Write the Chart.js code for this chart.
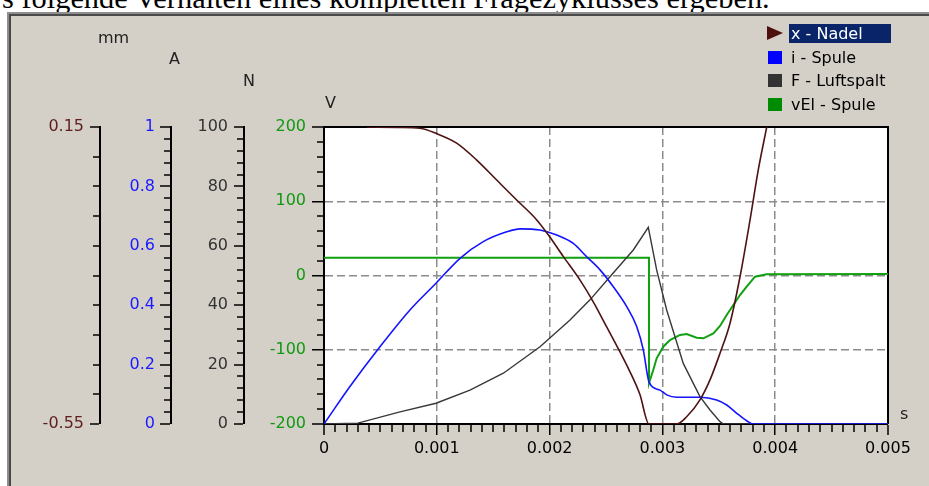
<!DOCTYPE html>
<html>
<head>
<meta charset="utf-8">
<script src="https://cdn.jsdelivr.net/npm/chart.js@4.4.0/dist/chart.umd.min.js"></script>
<style>
html,body{margin:0;padding:0;background:#fff;width:929px;height:486px;overflow:hidden;position:relative;font-family:'DejaVu Sans',sans-serif;}
#caption{position:absolute;left:2px;top:-17px;font-family:'Liberation Serif','Times New Roman',serif;font-size:30.4px;line-height:30px;white-space:nowrap;color:#000;z-index:0;}
#panel{position:absolute;left:7px;top:12px;width:960px;height:500px;background:#d4d0c8;border-top:2px solid #8f8f8f;border-left:2px solid #8f8f8f;box-shadow:inset 2px 2px 0 #4a4a4a;z-index:1;}
#c{position:absolute;left:0;top:0;z-index:2;}
.t{position:absolute;z-index:3;font-size:16px;line-height:20px;white-space:nowrap;color:#222;}
.row{position:absolute;z-index:3;height:19px;line-height:19px;font-size:16px;white-space:nowrap;color:#000;}
.row .txt{position:absolute;left:22px;top:0;padding:0 2px;height:19px;}
.row .sel{background:#0a246a;color:#fff;width:98px;}
.row .sq{position:absolute;left:1px;top:3px;width:14px;height:13px;}
.row .tri{position:absolute;left:0;top:2px;width:0;height:0;border-top:7px solid transparent;border-bottom:7px solid transparent;border-left:16px solid #4e0f0f;}
</style>
</head>
<body>
<div id="caption">s folgende Verhalten eines kompletten Fragezyklusses ergeben.</div>
<div id="panel"></div>
<canvas id="c" width="929" height="486"></canvas>
<div class="t" style="left:98px;top:28px;">mm</div>
<div class="t" style="left:169px;top:49px;">A</div>
<div class="t" style="left:243px;top:71px;">N</div>
<div class="t" style="left:325px;top:93px;">V</div>
<div class="t" style="left:900px;top:404px;">s</div>
<div id="legend"></div>
<script>
// ---- series names / colours ----
const seriesNames = ['x - Nadel', 'i - Spule', 'F - Luftspalt', 'vEl - Spule'];
const seriesColors = ['#4e1212', '#1414ff', '#383838', '#10a010'];
const legendColors = ['#4e0f0f', '#0000ff', '#333333', '#008c00'];

// ---- x - Nadel (mm) ----
const tNadel = [0.000379, 0.000660, 0.000851, 0.000993, 0.001176, 0.001354, 0.001531, 0.001708, 0.001886, 0.001988, 0.002121, 0.002270, 0.002387, 0.002506, 0.002624, 0.002700, 0.002800, 0.002881, 0.003127, 0.003215, 0.003333, 0.003422, 0.003511, 0.003599, 0.003688, 0.003777, 0.003850, 0.003925];
const xNadel = [0.150, 0.149, 0.147, 0.135, 0.112, 0.072, 0.025, -0.022, -0.069, -0.104, -0.155, -0.211, -0.262, -0.321, -0.380, -0.420, -0.480, -0.550, -0.550, -0.533, -0.493, -0.446, -0.383, -0.313, -0.203, -0.069, 0.049, 0.150];

// ---- i - Spule (A) ----
const tSpule = [0, 0.000230, 0.000496, 0.000762, 0.000993, 0.001206, 0.001412, 0.001620, 0.001738, 0.001915, 0.002063, 0.002210, 0.002329, 0.002447, 0.002565, 0.002684, 0.002772, 0.002831, 0.002881, 0.002979, 0.003038, 0.003127, 0.003333, 0.003481, 0.003570, 0.003659, 0.003747, 0.003806, 0.005];
const iSpule = [0, 0.126, 0.260, 0.384, 0.474, 0.558, 0.614, 0.647, 0.657, 0.653, 0.636, 0.608, 0.563, 0.519, 0.462, 0.395, 0.328, 0.249, 0.142, 0.114, 0.098, 0.090, 0.090, 0.081, 0.064, 0.036, 0.011, 0, 0];

// ---- F - Luftspalt (N) ----
const tLuft = [0, 0.000300, 0.000674, 0.000993, 0.001294, 0.001590, 0.001915, 0.002181, 0.002358, 0.002535, 0.002742, 0.002875, 0.002949, 0.003038, 0.003185, 0.003333, 0.003422, 0.003511, 0.003540, 0.005];
const fLuft = [0, 0.3, 4.1, 7.0, 11.4, 17.1, 26.0, 35.0, 41.8, 49.6, 58.6, 66.2, 51.9, 38.4, 20.4, 9.2, 4.7, 0.8, 0, 0];

// ---- vEl - Spule (V) ----
const tEl = [0, 0.002881, 0.002881, 0.002919, 0.002949, 0.003008, 0.003067, 0.003156, 0.003215, 0.003304, 0.003363, 0.003452, 0.003511, 0.003570, 0.003629, 0.003688, 0.003747, 0.003821, 0.003924, 0.005];
const vEl = [24, 24, -145, -127.3, -111.5, -95.9, -86.9, -80.1, -78.8, -83.8, -84.6, -77.9, -68.0, -53.2, -39.7, -26.3, -15.1, -1.6, 1.6, 2.0];

// ---- tick labels ----
const mmLabels = [-0.55, 0.15];
const aLabels = [0, 0.2, 0.4, 0.6, 0.8, 1];
const nLabels = [0, 20, 40, 60, 80, 100];
const vLabels = [-200, -100, 0, 100, 200];
const tLabels = [0, 0.001, 0.002, 0.003, 0.004, 0.005];

function buildTicks(labels, div) {
  const out = [];
  for (let k = 0; k < labels.length - 1; k++) {
    const a = labels[k], b = labels[k + 1];
    for (let j = 0; j < div; j++) out.push(a + (b - a) * j / div);
  }
  out.push(labels[labels.length - 1]);
  return out;
}
function helpers(labels) {
  const span = labels[labels.length - 1] - labels[0];
  const eps = span * 1e-6;
  const major = v => labels.some(l => Math.abs(l - v) < eps);
  const inner = v => major(v) && Math.abs(v - labels[0]) > eps && Math.abs(v - labels[labels.length - 1]) > eps;
  const fmt = v => { const l = labels.find(x => Math.abs(x - v) < eps); return l === undefined ? '' : String(l); };
  return {major, inner, fmt};
}
const FONT = {family: 'DejaVu Sans', size: 16};

function makeY(labels, div, o) {
  const ticks = buildTicks(labels, div);
  const h = helpers(labels);
  return {
    type: 'linear', axis: 'y', position: 'left', weight: o.weight,
    min: labels[0], max: labels[labels.length - 1],
    afterBuildTicks: s => { s.ticks = ticks.map(v => ({value: v})); },
    afterFit: s => { s.width = o.width; },
    border: {display: true, color: '#000', width: 2, dash: [8, 4]},
    grid: {
      drawOnChartArea: !!o.chartGrid,
      drawTicks: true,
      tickLength: o.tl,
      color: '#8c8c8c',
      lineWidth: c => (o.chartGrid && c.tick && h.inner(c.tick.value)) ? 1.5 : 0,
      tickWidth: 1.5,
      tickColor: '#000',
      tickBorderDash: c => (c.tick && h.major(c.tick.value)) ? [] : [0, o.gap, 100]
    },
    ticks: {autoSkip: false, padding: o.pad, color: o.color, font: FONT, callback: v => h.fmt(v)}
  };
}
function makeX(labels, div) {
  const ticks = buildTicks(labels, div);
  const h = helpers(labels);
  return {
    type: 'linear', axis: 'x', position: 'bottom',
    min: labels[0], max: labels[labels.length - 1],
    afterBuildTicks: s => { s.ticks = ticks.map(v => ({value: v})); },
    afterFit: s => { s.height = 40; },
    border: {display: true, color: '#000', width: 2, dash: [8, 4]},
    grid: {
      drawOnChartArea: true,
      drawTicks: true,
      tickLength: 11,
      color: '#8c8c8c',
      lineWidth: c => (c.tick && h.inner(c.tick.value)) ? 1.5 : 0,
      tickWidth: 1.5,
      tickColor: '#000',
      tickBorderDash: c => (c.tick && h.major(c.tick.value)) ? [] : [7, 100]
    },
    ticks: {autoSkip: false, maxRotation: 0, minRotation: 0, padding: 4, color: '#000', font: FONT, callback: v => h.fmt(v)}
  };
}

const pts = (t, v) => t.map((x, i) => ({x: x, y: v[i]}));

const framePlugin = {
  id: 'frame',
  beforeDraw(chart) {
    const {ctx, chartArea: a} = chart;
    ctx.save();
    ctx.fillStyle = '#ffffff';
    ctx.fillRect(a.left, a.top, a.right - a.left, a.bottom - a.top);
    ctx.restore();
  },
  beforeDatasetsDraw(chart) {
    const {ctx, chartArea: a} = chart;
    ctx.save();
    ctx.strokeStyle = '#000';
    ctx.lineWidth = 2;
    ctx.beginPath();
    ctx.moveTo(a.left, a.top);
    ctx.lineTo(a.right, a.top);
    ctx.lineTo(a.right, a.bottom);
    ctx.stroke();
    ctx.restore();
  }
};

new Chart(document.getElementById('c'), {
  type: 'line',
  data: {
    datasets: [
      {label: seriesNames[0], yAxisID: 'mm', data: pts(tNadel, xNadel), borderColor: seriesColors[0], borderWidth: 1.6, cubicInterpolationMode: 'monotone', pointRadius: 0, fill: false},
      {label: seriesNames[1], yAxisID: 'A', data: pts(tSpule, iSpule), borderColor: seriesColors[1], borderWidth: 1.6, cubicInterpolationMode: 'monotone', pointRadius: 0, fill: false},
      {label: seriesNames[2], yAxisID: 'N', data: pts(tLuft, fLuft), borderColor: seriesColors[2], borderWidth: 1.4, tension: 0, pointRadius: 0, fill: false},
      {label: seriesNames[3], yAxisID: 'V', data: pts(tEl, vEl), borderColor: seriesColors[3], borderWidth: 2, tension: 0, pointRadius: 0, fill: false}
    ]
  },
  options: {
    responsive: false,
    devicePixelRatio: 1,
    animation: false,
    events: [],
    layout: {padding: {left: 0, top: 127, right: 41, bottom: 22}},
    plugins: {legend: {display: false}, tooltip: {enabled: false}},
    scales: {
      x: makeX(tLabels, 10),
      mm: makeY(mmLabels, 10, {weight: 4, width: 100, tl: 10, gap: 3, pad: 6, color: '#5e1e1e'}),
      A: makeY(aLabels, 5, {weight: 3, width: 71, tl: 11, gap: 4, pad: 5, color: '#1a1aff'}),
      N: makeY(nLabels, 5, {weight: 2, width: 73, tl: 10, gap: 3, pad: 6, color: '#333333'}),
      V: makeY(vLabels, 5, {weight: 1, width: 80, tl: 12, gap: 5, pad: 6, color: '#119911', chartGrid: true})
    }
  },
  plugins: [framePlugin]
});

// ---- legend (HTML) ----
const lg = document.getElementById('legend');
seriesNames.forEach((name, i) => {
  const row = document.createElement('div');
  row.className = 'row';
  row.style.left = '767px';
  row.style.top = (24 + i * 23.5) + 'px';
  const mk = document.createElement('div');
  if (i === 0) { mk.className = 'tri'; mk.style.borderLeftColor = legendColors[i]; }
  else { mk.className = 'sq'; mk.style.background = legendColors[i]; }
  const tx = document.createElement('div');
  tx.className = 'txt' + (i === 0 ? ' sel' : '');
  tx.textContent = name;
  row.appendChild(mk);
  row.appendChild(tx);
  lg.appendChild(row);
});
</script>
</body>
</html>
